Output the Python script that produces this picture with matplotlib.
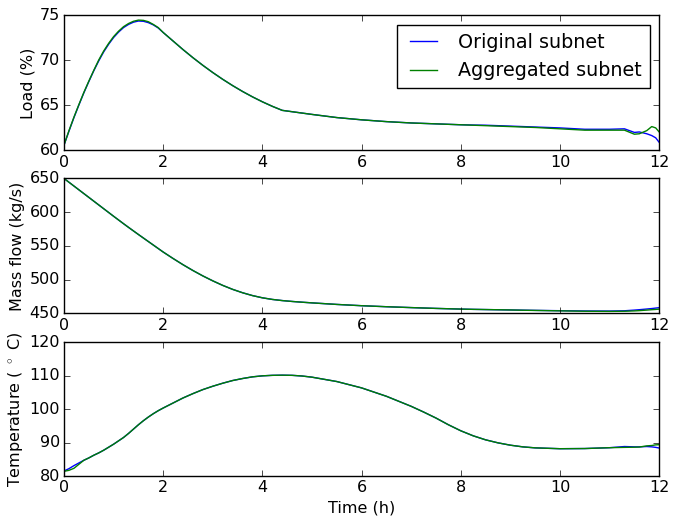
import matplotlib
matplotlib.use("Agg")
import matplotlib.pyplot as plt

plt.style.use('classic')

time_h = [0, 0.1, 0.2, 0.3, 0.4, 0.5, 0.6, 0.7, 0.8, 0.9, 1.0, 1.1, 1.2, 1.3, 1.4,
          1.5, 1.6, 1.7, 1.8, 1.9, 2.0, 2.2, 2.4, 2.6, 2.8, 3.0, 3.2, 3.4, 3.6, 3.8,
          4.0, 4.2, 4.4, 4.6, 4.8, 5.0, 5.5, 6.0, 6.5, 7.0, 7.25, 7.5, 7.75, 8.0, 8.25,
          8.5, 8.75, 9.0, 9.25, 9.5, 10.0, 10.5, 11.0, 11.3, 11.5, 11.6, 11.75, 11.85,
          11.93, 12.0]

load_original = [60.6, 62.15, 63.65, 65.05, 66.4, 67.65, 68.85, 69.95, 70.95, 71.8, 72.55,
                 73.15, 73.65, 74.0, 74.25, 74.38, 74.35, 74.2, 73.95, 73.6, 73.1, 72.15,
                 71.2, 70.3, 69.45, 68.65, 67.9, 67.2, 66.55, 65.95, 65.4, 64.9, 64.45,
                 64.3, 64.15, 64.0, 63.65, 63.4, 63.2, 63.05, 63.0, 62.95, 62.9, 62.85,
                 62.82, 62.8, 62.75, 62.7, 62.65, 62.6, 62.5, 62.35, 62.35, 62.4, 62.0,
                 62.05, 61.85, 61.65, 61.4, 60.9]
load_aggregated = [60.6, 62.2, 63.7, 65.1, 66.45, 67.7, 68.9, 70.05, 71.05, 71.9, 72.65,
                   73.25, 73.75, 74.1, 74.35, 74.48, 74.45, 74.3, 74.0, 73.65, 73.1, 72.15,
                   71.2, 70.3, 69.45, 68.65, 67.9, 67.2, 66.55, 65.95, 65.4, 64.9, 64.45,
                   64.3, 64.15, 64.0, 63.65, 63.4, 63.2, 63.05, 63.0, 62.95, 62.9, 62.85,
                   62.8, 62.75, 62.7, 62.65, 62.6, 62.55, 62.4, 62.25, 62.25, 62.25, 61.8,
                   61.85, 62.2, 62.65, 62.5, 62.05]

flow_original = [650, 644.4, 638.8, 633.2, 627.6, 622.0, 616.4, 610.8, 605.2, 599.6, 594.0,
                 588.5, 583.0, 577.6, 572.3, 567.0, 561.8, 556.6, 551.4, 546.2, 541.0,
                 531.4, 522.2, 513.6, 505.6, 498.3, 491.6, 485.7, 480.7, 476.5, 473.2,
                 470.8, 469.1, 467.8, 466.7, 465.7, 463.4, 461.5, 460, 458.7, 458.1, 457.5,
                 457.0, 456.5, 456.1, 455.8, 455.5, 455.2, 454.9, 454.6, 454.1, 453.7,
                 453.6, 454.0, 455.0, 455.6, 456.6, 457.3, 458.0, 458.6]
flow_aggregated = [650, 644.4, 638.8, 633.2, 627.6, 622.0, 616.4, 610.8, 605.2, 599.6, 594.0,
                   588.5, 583.0, 577.6, 572.3, 567.0, 561.8, 556.6, 551.4, 546.2, 541.0,
                   531.4, 522.2, 513.6, 505.6, 498.3, 491.6, 485.7, 480.7, 476.5, 473.2,
                   470.8, 469.1, 467.8, 466.7, 465.7, 463.4, 461.5, 460, 458.7, 458.1, 457.5,
                   457.0, 456.5, 456.1, 455.8, 455.5, 455.2, 454.8, 454.5, 453.9, 453.3,
                   453.1, 453.3, 453.8, 454.2, 455.0, 455.6, 456.0, 456.4]

temp_original = [81.5, 82.2, 83.1, 83.9, 84.7, 85.4, 86.2, 86.9, 87.7, 88.6, 89.5, 90.5,
                 91.5, 92.7, 94.0, 95.3, 96.5, 97.6, 98.6, 99.5, 100.3, 101.8, 103.3,
                 104.6, 105.8, 106.8, 107.7, 108.5, 109.1, 109.6, 109.9, 110.05, 110.1,
                 110.05, 109.85, 109.5, 108.2, 106.3, 103.8, 100.8, 99.1, 97.3, 95.3, 93.5,
                 92.0, 90.8, 89.9, 89.2, 88.7, 88.4, 88.15, 88.2, 88.45, 88.8, 88.7, 88.7,
                 88.8, 88.7, 88.55, 88.35]
temp_aggregated = [81.4, 81.7, 82.3, 83.5, 84.7, 85.4, 86.2, 86.9, 87.7, 88.6, 89.5, 90.5,
                   91.5, 92.7, 94.0, 95.3, 96.5, 97.6, 98.6, 99.5, 100.3, 101.8, 103.3,
                   104.6, 105.8, 106.8, 107.7, 108.5, 109.1, 109.6, 109.9, 110.05, 110.1,
                   110.05, 109.85, 109.5, 108.2, 106.3, 103.8, 100.8, 99.1, 97.3, 95.3, 93.5,
                   92.0, 90.8, 89.9, 89.2, 88.7, 88.4, 88.15, 88.2, 88.45, 88.55, 88.6, 88.65,
                   89.0, 89.1, 89.3, 89.35]

series_labels = ["Original subnet", "Aggregated subnet"]
y_labels = ["Load (%)", "Mass flow (kg/s)", "Temperature ( $^\\circ$ C)"]
x_label = "Time (h)"
x_ticks = [0, 2, 4, 6, 8, 10, 12]

FS = 11.5
fig = plt.figure(figsize=(6.74, 5.16), dpi=100, facecolor='white')
ax1 = fig.add_axes([0.095, 0.7085, 0.883, 0.2616])
ax2 = fig.add_axes([0.095, 0.3925, 0.883, 0.2616])
ax3 = fig.add_axes([0.095, 0.0775, 0.883, 0.2597])

panels = [
    (ax1, load_original, load_aggregated, (60, 75), [60, 65, 70, 75]),
    (ax2, flow_original, flow_aggregated, (450, 650), [450, 500, 550, 600, 650]),
    (ax3, temp_original, temp_aggregated, (80, 120), [80, 90, 100, 110, 120]),
]

for (ax, orig, agg, ylim, yticks), ylab in zip(panels, y_labels):
    ax.plot(time_h, orig, color='b', lw=1.0, label=series_labels[0])
    ax.plot(time_h, agg, color='g', lw=1.0, label=series_labels[1])
    ax.set_xlim(0, 12)
    ax.set_ylim(*ylim)
    ax.set_xticks(x_ticks)
    ax.set_yticks(yticks)
    ax.set_ylabel(ylab, fontsize=FS, labelpad=3)
    ax.tick_params(labelsize=FS, pad=3)

ax3.set_xlabel(x_label, fontsize=FS, labelpad=4)
ax1.legend(loc='upper right', fontsize=13.8)

fig.savefig('out.png', dpi=100, facecolor='white')
